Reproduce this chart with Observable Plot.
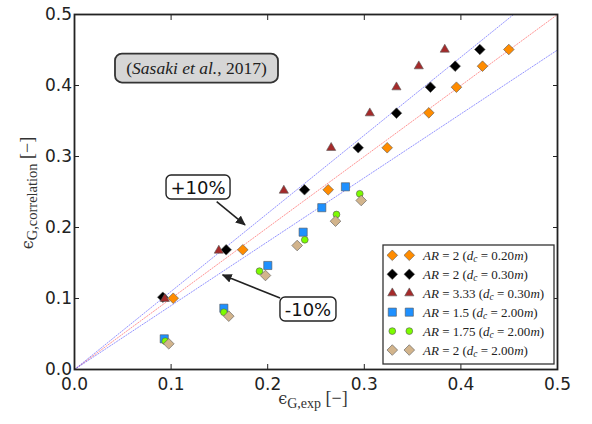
<!DOCTYPE html>
<html><head><meta charset="utf-8">
<script src="https://cdn.jsdelivr.net/npm/d3@7"></script>
<script src="https://cdn.jsdelivr.net/npm/@observablehq/plot@0.6"></script>
<style>html,body{margin:0;padding:0;background:#fff}#chart svg{display:block}</style>
</head><body><div id="chart"></div>
<script>
// ---- data ----
const xTicks = [0, 0.1, 0.2, 0.3, 0.4, 0.5];
const yTicks = [0, 0.1, 0.2, 0.3, 0.4, 0.5];
const refSlopes = [0.9, 1.0, 1.1];
const refEnds = [0, 0.5];

const seriesAR = ["2", "2", "3.33", "1.5", "1.75", "2"];
const seriesDc = ["0.20", "0.30", "0.30", "2.00", "2.00", "2.00"];

const expOrange = [0.1022, 0.1742, 0.2626, 0.3237, 0.3668, 0.3954, 0.4224, 0.4496];
const corOrange = [0.1004, 0.1686, 0.2531, 0.3123, 0.3615, 0.3976, 0.4272, 0.4507];
const expBlack  = [0.0914, 0.1570, 0.2381, 0.2937, 0.3333, 0.3685, 0.3941, 0.4196];
const corBlack  = [0.1018, 0.1686, 0.2531, 0.3123, 0.3610, 0.3976, 0.4272, 0.4507];
const expRed    = [0.0935, 0.1494, 0.2167, 0.2657, 0.3057, 0.3333, 0.3564, 0.3833];
const corRed    = [0.0996, 0.1676, 0.2521, 0.3123, 0.3610, 0.3976, 0.4272, 0.4507];
const expBlue   = [0.0929, 0.1546, 0.2001, 0.2367, 0.2560, 0.2805];
const corBlue   = [0.0432, 0.0863, 0.1465, 0.1934, 0.2279, 0.2573];
const expGreen  = [0.0939, 0.1546, 0.1915, 0.2384, 0.2712, 0.2953];
const corGreen  = [0.0399, 0.0807, 0.1385, 0.1827, 0.2183, 0.2475];
const expTan    = [0.0976, 0.1597, 0.1977, 0.2305, 0.2702, 0.2968];
const corTan    = [0.0362, 0.0751, 0.1324, 0.1746, 0.2089, 0.2380];

const seriesExp = [expOrange, expBlack, expRed, expBlue, expGreen, expTan];
const seriesCor = [corOrange, corBlack, corRed, corBlue, corGreen, corTan];

const citeText = ["(", "Sasaki et al.", ", 2017)"];
const notes = [
  {label: "+10%", cx: 0.1284, cy: 0.2563, x1: 0.1477, y1: 0.2356, x2: 0.1770, y2: 0.2031, w: 64},
  {label: "-10%", cx: 0.2422, cy: 0.0845, x1: 0.2133, y1: 0.1000, x2: 0.1539, y2: 0.1324, w: 56}
];
const citePos = {cx: 0.1268, cy: 0.4239};

// ---- styles ----
const diamond = {draw(ctx, size) {const h = Math.sqrt(size) * 0.6; ctx.moveTo(0, -h); ctx.lineTo(h, 0); ctx.lineTo(0, h); ctx.lineTo(-h, 0); ctx.closePath();}};
const styles = [
  {fill: "#ff8c00", symbol: diamond, r: 5},
  {fill: "#000000", symbol: diamond, r: 5},
  {fill: "#a52a2a", symbol: d3.symbolTriangle, r: 3.4},
  {fill: "#1e90ff", symbol: d3.symbolSquare, r: 4.6},
  {fill: "#7cfc00", symbol: d3.symbolCircle, r: 3.4},
  {fill: "#d2b48c", symbol: diamond, r: 5}
];

const refRows = refSlopes.flatMap(k => refEnds.map(x => ({x, y: k * x, k})));
const pts = seriesExp.map((xs, i) => xs.map((x, j) => ({x, y: seriesCor[i][j], s: i})));

const axisFont = {fontSize: 17, fontFamily: "DejaVu Sans", fill: "#222"};

const chart = Plot.plot({
  width: 592, height: 424,
  marginLeft: 74, marginRight: 35, marginTop: 14, marginBottom: 55,
  x: {domain: [0, 0.5], label: null},
  y: {domain: [0, 0.5], label: null},
  style: {background: "#fff"},
  marks: [
    Plot.line(refRows.filter(d => d.k === 1), {x: "x", y: "y", stroke: "#ff4d4d", strokeOpacity: 0.6, strokeWidth: 1, strokeDasharray: "1.2,1.6", clip: true}),
    Plot.line(refRows.filter(d => d.k !== 1), {x: "x", y: "y", z: "k", stroke: "#4d4dff", strokeOpacity: 0.6, strokeWidth: 1, strokeDasharray: "1.2,1.6", clip: true}),
    ...pts.map((data, i) => Plot.dot(data, {x: "x", y: "y", symbol: styles[i].symbol, r: styles[i].r, fill: styles[i].fill, stroke: "#555", strokeWidth: 0.6})),
    Plot.axisX(xTicks, {anchor: "bottom", tickSize: -5, tickPadding: 13, tickFormat: d3.format(".1f"), stroke: "#222", ...axisFont, label: null}),
    Plot.axisX(xTicks, {anchor: "top", tickSize: -5, tickFormat: () => "", stroke: "#222", label: null}),
    Plot.axisY(yTicks, {anchor: "left", tickSize: -5, tickPadding: 7.5, tickFormat: d3.format(".1f"), stroke: "#222", ...axisFont, label: null}),
    Plot.axisY(yTicks, {anchor: "right", tickSize: -5, tickFormat: () => "", stroke: "#222", label: null}),
    Plot.frame({stroke: "#222", strokeWidth: 1.8})
  ]
});
document.getElementById("chart").append(chart);

const sx = chart.scale("x"), sy = chart.scale("y");
const svg = d3.select(chart);
const serif = "Liberation Serif";

// axis labels
const xl = svg.append("text").attr("x", 313).attr("y", 404).attr("text-anchor", "middle")
  .attr("font-family", serif).attr("font-size", 18).attr("fill", "#333");
xl.append("tspan").attr("font-family", "DejaVu Serif").attr("font-size", 16).text("ϵ");
xl.append("tspan").attr("font-size", 14).attr("dy", 3.5).text("G,exp");
xl.append("tspan").attr("dy", -3.5).text(" [−]");

const yl = svg.append("text").attr("transform", "translate(33,193) rotate(-90)").attr("text-anchor", "middle")
  .attr("font-family", serif).attr("font-size", 18).attr("fill", "#333");
yl.append("tspan").attr("font-family", "DejaVu Serif").attr("font-size", 16).text("ϵ");
yl.append("tspan").attr("font-size", 14.5).attr("dy", 3.5).text("G,correlation");
yl.append("tspan").attr("dy", -3.5).text(" [−]");

// citation box
const cx = sx.apply(citePos.cx), cy = sy.apply(citePos.cy);
svg.append("rect").attr("x", cx - 81.5).attr("y", cy - 14.5).attr("width", 163).attr("height", 29).attr("rx", 7)
  .attr("fill", "#d6d6d6").attr("stroke", "#333").attr("stroke-width", 1.8);
const ct = svg.append("text").attr("x", cx).attr("y", cy + 5.5).attr("text-anchor", "middle")
  .attr("font-family", serif).attr("font-size", 17.5).attr("fill", "#222");
ct.append("tspan").text(citeText[0]);
ct.append("tspan").attr("font-style", "italic").text(citeText[1]);
ct.append("tspan").text(citeText[2]);

// arrows and +/-10% boxes
svg.append("defs").append("marker").attr("id", "ah").attr("viewBox", "0 0 10 10").attr("refX", 9).attr("refY", 5)
  .attr("markerWidth", 10).attr("markerHeight", 10).attr("markerUnits", "userSpaceOnUse").attr("orient", "auto")
  .append("path").attr("d", "M0,0.5 L10,5 L0,9.5 Z").attr("fill", "#222");
for (const n of notes) {
  svg.append("line").attr("x1", sx.apply(n.x1)).attr("y1", sy.apply(n.y1)).attr("x2", sx.apply(n.x2)).attr("y2", sy.apply(n.y2))
    .attr("stroke", "#222").attr("stroke-width", 1.6).attr("marker-end", "url(#ah)");
  const bx = sx.apply(n.cx), by = sy.apply(n.cy);
  svg.append("rect").attr("x", bx - n.w / 2).attr("y", by - 12).attr("width", n.w).attr("height", 24).attr("rx", 5)
    .attr("fill", "#fff").attr("stroke", "#222").attr("stroke-width", 1.4);
  svg.append("text").attr("x", bx).attr("y", by + 6.5).attr("text-anchor", "middle")
    .attr("font-family", "DejaVu Sans").attr("font-size", 18).attr("fill", "#111").text(n.label);
}

// legend
const lg = svg.append("g").attr("text-anchor", "start");
lg.append("rect").attr("x", 383).attr("y", 245).attr("width", 171).attr("height", 119)
  .attr("fill", "#fff").attr("stroke", "#333").attr("stroke-width", 1.3);
seriesAR.forEach((ar, i) => {
  const y = 255.3 + i * 18.95;
  const st = styles[i];
  for (const mx of [392.3, 409.3]) {
    lg.append("path").attr("transform", `translate(${mx},${y})`)
      .attr("d", d3.symbol(st.symbol, Math.PI * st.r * st.r)())
      .attr("fill", st.fill).attr("stroke", "#555").attr("stroke-width", 0.6);
  }
  const t = lg.append("text").attr("x", 423).attr("y", y + 4.5).attr("text-anchor", "start")
    .attr("font-family", serif).attr("font-size", 13).attr("fill", "#222");
  t.append("tspan").attr("font-style", "italic").text("AR");
  t.append("tspan").text(` = ${ar} (`);
  t.append("tspan").attr("font-style", "italic").text("d");
  t.append("tspan").attr("font-style", "italic").attr("font-size", 9.5).attr("dy", 2.5).text("c");
  t.append("tspan").attr("dy", -2.5).text(` = ${seriesDc[i]}`);
  t.append("tspan").attr("font-style", "italic").text("m");
  t.append("tspan").text(")");
});
</script>
</body></html>
